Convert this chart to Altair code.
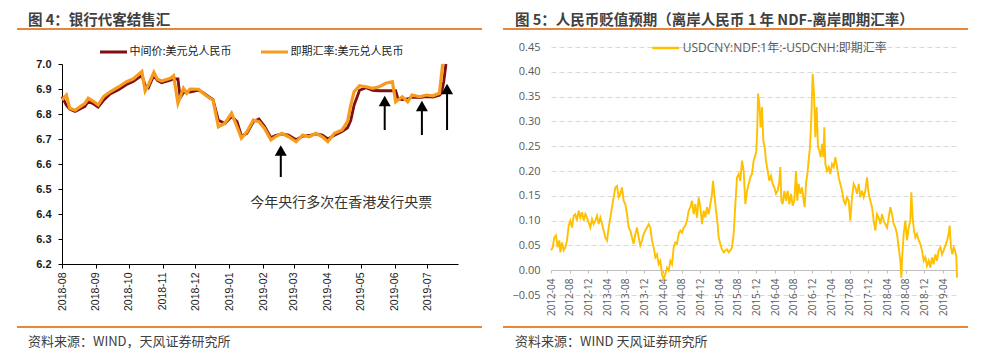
import json
import altair as alt
import pandas as pd

# ---------------- Figure 4: 银行代客结售汇 ----------------
SERIES_MID = "中间价:美元兑人民币"
SERIES_SPOT = "即期汇率:美元兑人民币"

mid_dates = ["2018-08-01", "2018-08-05", "2018-08-08", "2018-08-13", "2018-08-22", "2018-08-25",
             "2018-08-30", "2018-09-03", "2018-09-08", "2018-09-14", "2018-09-22", "2018-09-29",
             "2018-10-05", "2018-10-13", "2018-10-16", "2018-10-19", "2018-10-24", "2018-10-27",
             "2018-10-31", "2018-11-08", "2018-11-11", "2018-11-15", "2018-11-17", "2018-11-20",
             "2018-11-23", "2018-11-26", "2018-12-04", "2018-12-08", "2018-12-14", "2018-12-17",
             "2018-12-22", "2018-12-28", "2019-01-03", "2019-01-08", "2019-01-12", "2019-01-17",
             "2019-01-23", "2019-01-28", "2019-02-02", "2019-02-08", "2019-02-12", "2019-02-18",
             "2019-02-24", "2019-03-03", "2019-03-09", "2019-03-15", "2019-03-21", "2019-03-27",
             "2019-04-01", "2019-04-07", "2019-04-14", "2019-04-19", "2019-04-22", "2019-04-25",
             "2019-04-30", "2019-05-06", "2019-05-12", "2019-05-18", "2019-05-24", "2019-05-30",
             "2019-06-02", "2019-06-04", "2019-06-08", "2019-06-13", "2019-06-17", "2019-06-24",
             "2019-06-30", "2019-07-06", "2019-07-12", "2019-07-14", "2019-07-16", "2019-07-18"]
mid_values = [6.870, 6.835, 6.820, 6.810, 6.830, 6.850,
              6.840, 6.828, 6.855, 6.880, 6.898, 6.918,
              6.930, 6.955, 6.915, 6.905, 6.955, 6.935,
              6.925, 6.935, 6.940, 6.940, 6.865, 6.885,
              6.890, 6.888, 6.895, 6.885, 6.866, 6.858,
              6.775, 6.762, 6.790, 6.770, 6.712, 6.722,
              6.770, 6.780, 6.752, 6.705, 6.714, 6.720,
              6.716, 6.697, 6.712, 6.714, 6.720, 6.716,
              6.700, 6.715, 6.730, 6.745, 6.775, 6.835,
              6.895, 6.905, 6.895, 6.893, 6.893, 6.893,
              6.893, 6.862, 6.858, 6.860, 6.868, 6.866,
              6.870, 6.868, 6.875, 6.885, 6.930, 7.000]

spot_dates = ["2018-08-01", "2018-08-05", "2018-08-08", "2018-08-13", "2018-08-22", "2018-08-25",
              "2018-08-30", "2018-09-03", "2018-09-08", "2018-09-14", "2018-09-22", "2018-09-29",
              "2018-10-05", "2018-10-13", "2018-10-16", "2018-10-19", "2018-10-24", "2018-10-27",
              "2018-10-31", "2018-11-08", "2018-11-11", "2018-11-15", "2018-11-20", "2018-11-23",
              "2018-11-26", "2018-12-04", "2018-12-08", "2018-12-14", "2018-12-17", "2018-12-22",
              "2018-12-28", "2019-01-03", "2019-01-08", "2019-01-12", "2019-01-17", "2019-01-23",
              "2019-01-28", "2019-02-02", "2019-02-08", "2019-02-12", "2019-02-18", "2019-02-24",
              "2019-03-03", "2019-03-09", "2019-03-15", "2019-03-21", "2019-03-27", "2019-04-01",
              "2019-04-07", "2019-04-14", "2019-04-19", "2019-04-22", "2019-04-25", "2019-04-30",
              "2019-05-06", "2019-05-12", "2019-05-18", "2019-05-24", "2019-05-30", "2019-06-02",
              "2019-06-08", "2019-06-13", "2019-06-17", "2019-06-24", "2019-06-30", "2019-07-06",
              "2019-07-12", "2019-07-14", "2019-07-15"]
spot_values = [6.856, 6.876, 6.823, 6.815, 6.843, 6.863,
               6.850, 6.836, 6.870, 6.889, 6.909, 6.929,
               6.940, 6.970, 6.892, 6.916, 6.967, 6.940,
               6.932, 6.943, 6.953, 6.843, 6.903, 6.883,
               6.900, 6.899, 6.883, 6.863, 6.856, 6.749,
               6.763, 6.803, 6.749, 6.703, 6.729, 6.776,
               6.769, 6.743, 6.696, 6.709, 6.723, 6.709,
               6.689, 6.716, 6.709, 6.723, 6.709, 6.689,
               6.723, 6.736, 6.769, 6.836, 6.889, 6.913,
               6.909, 6.903, 6.909, 6.923, 6.929, 6.849,
               6.869, 6.849, 6.876, 6.869, 6.876, 6.873,
               6.883, 6.960, 7.000]

left_month_ticks = ["2018-08", "2018-09", "2018-10", "2018-11", "2018-12", "2019-01",
                    "2019-02", "2019-03", "2019-04", "2019-05", "2019-06", "2019-07"]
left_y_ticks = [6.2, 6.3, 6.4, 6.5, 6.6, 6.7, 6.8, 6.9, 7.0]

arrow_dates = ["2019-02-17", "2019-05-23", "2019-06-26", "2019-07-19"]
arrow_tail = [6.548, 6.736, 6.716, 6.736]
arrow_head = [6.654, 6.852, 6.832, 6.900]

note_text = ["今年央行多次在香港发行央票"]
note_date = ["2019-01-20"]
note_value = [6.444]

# ---------------- Figure 5: 人民币贬值预期 ----------------
NDF_SERIES = "USDCNY:NDF:1年:-USDCNH:即期汇率"
# months elapsed since 2012-04
ndf_month = [0.00, 0.36, 0.71, 1.07, 1.43, 1.79, 2.00, 2.36, 2.71, 3.07, 3.43, 3.79, 4.14, 4.50,
             4.86, 5.21, 5.57, 5.93, 6.29, 6.64, 7.00, 7.36, 7.71, 8.07, 8.43, 8.79, 9.14, 9.50,
             9.86, 10.21, 10.57, 10.93, 11.29, 11.64, 12.00, 12.36, 12.71, 13.07, 13.43, 13.79,
             14.14, 14.50, 14.86, 15.21, 15.57, 15.93, 16.29, 16.64, 17.00, 17.36, 17.71, 18.07,
             18.43, 18.79, 19.14, 19.50, 19.86, 20.21, 20.57, 20.93, 21.29, 21.64, 22.00, 22.36,
             22.71, 23.07, 23.43, 23.79, 24.14, 24.50, 24.86, 25.21, 25.57, 25.93, 26.29, 26.64,
             27.00, 27.36, 27.71, 28.07, 28.43, 28.79, 29.14, 29.50, 29.86, 30.21, 30.57, 30.93,
             31.29, 31.64, 32.00, 32.36, 32.71, 33.07, 33.43, 33.79, 34.14, 34.50, 34.71, 35.07,
             35.36, 35.71, 35.93, 36.29, 36.64, 37.00, 37.36, 37.71, 38.07, 38.43, 38.79, 39.14,
             39.50, 39.86, 40.21, 40.57, 40.93, 41.29, 41.64, 42.00, 42.36, 42.71, 43.07, 43.43,
             43.79, 44.00, 44.21, 44.36, 44.64, 44.93, 45.21, 45.50, 45.79, 46.07, 46.43, 46.79,
             47.14, 47.50, 47.86, 48.21, 48.57, 48.93, 49.14, 49.36, 49.64, 50.00, 50.36, 50.71,
             51.07, 51.43, 51.79, 52.14, 52.50, 52.79, 53.07, 53.43, 53.79, 54.14, 54.36, 54.64,
             54.93, 55.21, 55.50, 55.79, 56.07, 56.36, 56.64, 56.93, 57.21, 57.50, 57.79, 58.07,
             58.36, 58.57, 58.79, 59.14, 59.50, 59.86, 60.21, 60.57, 60.93, 61.29, 61.64, 62.00,
             62.36, 62.71, 63.07, 63.43, 63.79, 64.14, 64.50, 64.86, 65.21, 65.57, 65.93, 66.29,
             66.64, 67.00, 67.36, 67.71, 68.07, 68.43, 68.79, 69.14, 69.50, 69.86, 70.21, 70.57,
             70.93, 71.29, 71.64, 72.00, 72.36, 72.71, 73.07, 73.43, 73.79, 74.14, 74.50, 74.86,
             75.07, 75.29, 75.57, 75.93, 76.29, 76.64, 77.00, 77.21, 77.50, 77.79, 78.07, 78.43,
             78.79, 79.14, 79.50, 79.86, 80.21, 80.57, 80.93, 81.29, 81.64, 82.00, 82.36, 82.71,
             83.07, 83.43, 83.79, 84.14, 84.50, 84.86, 85.21, 85.43, 85.71, 86.00, 86.29, 86.57,
             86.86, 87.00]
ndf_value = [0.040, 0.046, 0.066, 0.070, 0.046, 0.060, 0.036, 0.056, 0.040, 0.046, 0.060, 0.090, 0.100, 0.086,
             0.110, 0.113, 0.100, 0.120, 0.106, 0.117, 0.100, 0.113, 0.106, 0.096, 0.086, 0.103, 0.093, 0.100,
             0.110, 0.093, 0.106, 0.093, 0.080, 0.066, 0.060, 0.086, 0.106, 0.127, 0.147, 0.167,
             0.170, 0.147, 0.154, 0.167, 0.140, 0.133, 0.113, 0.086, 0.080, 0.066, 0.053, 0.073,
             0.086, 0.066, 0.050, 0.060, 0.073, 0.080, 0.086, 0.093, 0.086, 0.060, 0.046, 0.026,
             0.032, 0.012, 0.019, -0.008, -0.018, -0.008, 0.005, -0.001, 0.019, 0.012, 0.046, 0.056,
             0.053, 0.073, 0.080, 0.076, 0.086, 0.090, 0.100, 0.120, 0.127, 0.140, 0.113, 0.133,
             0.106, 0.147, 0.127, 0.093, 0.120, 0.106, 0.127, 0.113, 0.133, 0.154, 0.180, 0.147,
             0.120, 0.093, 0.066, 0.053, 0.042, 0.036, 0.040, 0.042, 0.036, 0.040, 0.046, 0.073,
             0.133, 0.187, 0.194, 0.180, 0.221, 0.200, 0.133, 0.160, 0.174, 0.187, 0.194, 0.221,
             0.231, 0.241, 0.288, 0.356, 0.336, 0.288, 0.329, 0.261, 0.248, 0.221, 0.200, 0.180,
             0.190, 0.174, 0.167, 0.154, 0.160, 0.180, 0.208, 0.140, 0.133, 0.160, 0.140, 0.160,
             0.133, 0.154, 0.130, 0.140, 0.200, 0.140, 0.174, 0.154, 0.167, 0.140, 0.127, 0.174,
             0.194, 0.221, 0.248, 0.309, 0.396, 0.356, 0.268, 0.329, 0.248, 0.241, 0.228, 0.255,
             0.228, 0.288, 0.214, 0.200, 0.208, 0.194, 0.214, 0.208, 0.228, 0.208, 0.187, 0.174,
             0.160, 0.140, 0.133, 0.147, 0.140, 0.100, 0.147, 0.174, 0.167, 0.154, 0.174, 0.147,
             0.160, 0.147, 0.160, 0.187, 0.154, 0.140, 0.127, 0.100, 0.080, 0.113, 0.106, 0.093,
             0.113, 0.100, 0.093, 0.086, 0.106, 0.127, 0.113, 0.093, 0.086, 0.073, 0.046, 0.019,
             -0.015, 0.032, 0.073, 0.100, 0.060, 0.086, 0.100, 0.157, 0.106, 0.080, 0.066, 0.073,
             0.060, 0.053, 0.040, 0.019, 0.026, 0.009, 0.019, 0.005, 0.026, 0.012, 0.032, 0.019,
             0.040, 0.046, 0.032, 0.040, 0.049, 0.060, 0.073, 0.090, 0.046, 0.032, 0.046, 0.040,
             0.026, -0.015]

right_x_ticks = [0, 4, 8, 12, 16, 20, 24, 28, 32, 36, 40, 44, 48, 52, 56, 60, 64, 68, 72, 76, 80, 84]
right_x_labels = ["2012-04", "2012-08", "2012-12", "2013-04", "2013-08", "2013-12", "2014-04",
                  "2014-08", "2014-12", "2015-04", "2015-08", "2015-12", "2016-04", "2016-08",
                  "2016-12", "2017-04", "2017-08", "2017-12", "2018-04", "2018-08", "2018-12",
                  "2019-04"]
right_y_ticks = [-0.05, 0.0, 0.05, 0.10, 0.15, 0.20, 0.25, 0.30, 0.35, 0.40, 0.45]

titles = ["图 4：银行代客结售汇", "图 5：人民币贬值预期（离岸人民币 1 年 NDF-离岸即期汇率）"]
sources = ["资料来源：WIND，天风证券研究所", "资料来源：WIND 天风证券研究所"]

# ---------------- build ----------------
W, H = 975, 345
ORANGE_RULE = "#e8873a"
CJK = "Noto Sans CJK SC"


def dt(s):
    y, m = int(s[:4]), int(s[5:7])
    d = int(s[8:10]) if len(s) > 7 else 1
    return alt.DateTime(year=y, month=m, date=d, utc=True)


left_x_scale = alt.Scale(type="utc", domain=[dt("2018-08-01"), dt("2019-07-29")], range=[54, 450])
left_y_scale = alt.Scale(domain=[6.2, 7.0], range=[256, 56], zero=False, nice=False)
left_x_axis = alt.Axis(orient="bottom", offset=-89, values=[dt(s) for s in left_month_ticks],
                       labelExpr="utcFormat(datum.value, '%Y-%m')", labelAngle=270,
                       labelFont="Liberation Sans", labelFontSize=10.5, labelColor="#1a1a1a",
                       tickSize=4, tickColor="#000000", domainColor="#000000", grid=False,
                       title=None, labelPadding=4, labelFlush=False, labelOverlap=False)
left_y_axis = alt.Axis(orient="left", offset=-54, values=left_y_ticks, format=".1f",
                       labelFont="Liberation Sans", labelFontSize=11, labelFontWeight="bold",
                       labelColor="#1a1a1a", tickSize=4, tickColor="#000000",
                       domainColor="#000000", grid=False, title=None, labelPadding=7,
                       labelFlush=False, labelOverlap=False)


def lx(field):
    return alt.X(field, type="temporal", scale=left_x_scale, axis=left_x_axis, title=None)


def ly(field):
    return alt.Y(field, type="quantitative", scale=left_y_scale, axis=left_y_axis, title=None)


left_color = alt.Color(
    "series:N",
    scale=alt.Scale(domain=[SERIES_MID, SERIES_SPOT], range=["#7f0f10", "#f79b1e"]),
    legend=alt.Legend(orient="none", legendX=90.5, legendY=29, direction="horizontal",
                      title=None, symbolType="stroke", symbolSize=729, symbolStrokeWidth=3,
                      labelFont=CJK, labelFontSize=11, labelColor="#1a1a1a", labelLimit=300,
                      columnPadding=22, labelOffset=1, padding=0),
)

mid_df = pd.DataFrame({"date": mid_dates, "value": mid_values, "series": SERIES_MID})
spot_df = pd.DataFrame({"date": spot_dates, "value": spot_values, "series": SERIES_SPOT})
arrow_df = pd.DataFrame({"date": arrow_dates, "tail": arrow_tail, "head": arrow_head})
note_df = pd.DataFrame({"date": note_date, "value": note_value, "text": note_text})

mid_line = alt.Chart(mid_df).mark_line(strokeWidth=2.8).encode(
    x=lx("date"), y=ly("value"), color=left_color)
spot_line = alt.Chart(spot_df).mark_line(strokeWidth=3.2).encode(
    x=lx("date"), y=ly("value"), color=left_color)
arrow_shaft = alt.Chart(arrow_df).mark_rule(color="#000000", strokeWidth=2).encode(
    x=lx("date"), y=ly("tail"), y2="head:Q")
arrow_tip = alt.Chart(arrow_df).mark_point(shape="triangle-up", size=144, filled=True,
                                          color="#000000", opacity=1).encode(
    x=lx("date"), y=ly("head"))
note = alt.Chart(note_df).mark_text(align="left", baseline="middle", font=CJK, fontSize=14,
                                    color="#333333").encode(
    x=lx("date"), y=ly("value"), text="text:N")

left = alt.layer(mid_line, spot_line, arrow_shaft, arrow_tip, note)

# right panel
ndf_df = pd.DataFrame({"month": ndf_month, "value": ndf_value, "series": NDF_SERIES})
label_expr = json.dumps(right_x_labels, ensure_ascii=False) + "[round(datum.value / 4)]"
right_x_axis = alt.Axis(orient="bottom", offset=-83, values=right_x_ticks, labelExpr=label_expr,
                        labelAngle=270, labelFont="Open Sans", labelFontSize=10,
                        labelColor="#595959", domainColor="#bfbfbf", tickColor="#bfbfbf",
                        tickSize=3, labelPadding=5, grid=False, title=None, labelFlush=False,
                        labelOverlap=False)
right_y_axis = alt.Axis(orient="left", offset=-543, values=right_y_ticks, format=".2f",
                        labelFont="Open Sans", labelFontSize=11, labelColor="#595959",
                        domain=False, ticks=False, grid=True, gridColor="#d9d9d9",
                        gridDash=[5, 3], gridWidth=1, labelPadding=11, title=None,
                        labelFlush=False, labelOverlap=False)
ndf_line = alt.Chart(ndf_df).mark_line(strokeWidth=1.9).encode(
    x=alt.X("month:Q", scale=alt.Scale(domain=[0, 87], range=[543, 949], zero=False, nice=False),
            axis=right_x_axis, title=None),
    y=alt.Y("value:Q", scale=alt.Scale(domain=[-0.05, 0.45], range=[287, 39], zero=False,
                                       nice=False), axis=right_y_axis, title=None),
    color=alt.Color("series:N", scale=alt.Scale(domain=[NDF_SERIES], range=["#ffc000"]),
                    legend=alt.Legend(orient="none", legendX=642.75, legendY=25,
                                      title=None, symbolType="stroke", symbolSize=729,
                                      symbolStrokeWidth=2.5, labelFont="Open Sans, " + CJK,
                                      labelFontSize=12, labelColor="#595959", labelLimit=400,
                                      labelOffset=2, padding=0)),
)

# decorations: titles, orange separators, sources
one = pd.DataFrame({"k": [0]})


def deco_text(txt, x, y, size, weight):
    return alt.Chart(one).mark_text(text=txt, align="left", baseline="alphabetic", font=CJK,
                                    fontSize=size, fontWeight=weight, color="#404040").encode(
        x=alt.value(x), y=alt.value(y))


def deco_rule(x1, x2, y):
    return alt.Chart(one).mark_rule(color=ORANGE_RULE, strokeWidth=2).encode(
        x=alt.value(x1), x2=alt.value(x2), y=alt.value(y))


decos = [
    deco_text(titles[0], 20, 17, 14.5, "bold"),
    deco_text(titles[1], 507, 17, 14.5, "bold"),
    deco_rule(9, 474, 21), deco_rule(495, 960, 21),
    deco_rule(9, 474, 319), deco_rule(495, 960, 319),
    deco_text(sources[0], 20, 338, 13, "normal"),
    deco_text(sources[1], 507, 338, 13, "normal"),
]

chart = alt.layer(left, ndf_line, *decos).resolve_scale(
    x="independent", y="independent", color="independent"
).properties(
    width=W, height=H, padding=0, autosize=alt.AutoSizeParams(type="none")
).configure_view(stroke=None)

chart.save("out.html", embed_options={"renderer": "svg", "actions": False})
